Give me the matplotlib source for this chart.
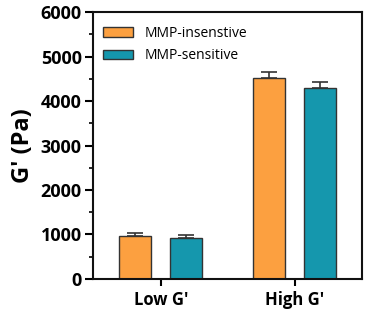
import matplotlib.pyplot as plt
import numpy as np
from matplotlib.ticker import MultipleLocator

groups = ["Low G'", "High G'"]
insensitive = [965, 4515]
insensitive_err = [60, 130]
sensitive = [920, 4290]
sensitive_err = [60, 135]

plt.rcParams['font.family'] = ['Open Sans', 'DejaVu Sans']

fig = plt.figure(figsize=(3.67, 3.11), dpi=100)
ax = fig.add_axes([0.253, 0.103, 0.733, 0.858])

x = np.arange(len(groups))
w = 0.24
off = 0.19
# upper-only error bars
ax.bar(x - off, insensitive, w, yerr=[np.zeros(2), insensitive_err], color='#fca040',
       edgecolor='#333333', linewidth=1, label='MMP-insenstive', capsize=6,
       error_kw=dict(elinewidth=1.2, capthick=1.2, ecolor='#333333'))
ax.bar(x + off, sensitive, w, yerr=[np.zeros(2), sensitive_err], color='#1597ad',
       edgecolor='#333333', linewidth=1, label='MMP-sensitive', capsize=6,
       error_kw=dict(elinewidth=1.2, capthick=1.2, ecolor='#333333'))

ax.set_xlim(-0.507, 1.5)
ax.set_ylim(0, 6000)
ax.set_xticks(x)
ax.set_xticklabels(groups, fontsize=12, fontweight='bold')
ax.yaxis.set_major_locator(MultipleLocator(1000))
ax.yaxis.set_minor_locator(MultipleLocator(500))
ax.tick_params(axis='y', which='major', length=6, width=1.5, labelsize=13, pad=2)
ax.tick_params(axis='y', which='minor', length=3, width=1.2)
ax.tick_params(axis='x', length=5, width=1.5)
for lab in ax.get_yticklabels():
    lab.set_fontweight('bold')
for s in ax.spines.values():
    s.set_linewidth(1.5)
    s.set_color('#111111')

ax.set_ylabel("G' (Pa)", fontsize=17, fontweight='bold', labelpad=4)

ax.legend(loc='upper left', frameon=False, fontsize=10, handlelength=2.2, handleheight=0.7,
          bbox_to_anchor=(0.0, 0.985), borderaxespad=0.3, labelspacing=0.55)

fig.savefig('out.png', dpi=100)
